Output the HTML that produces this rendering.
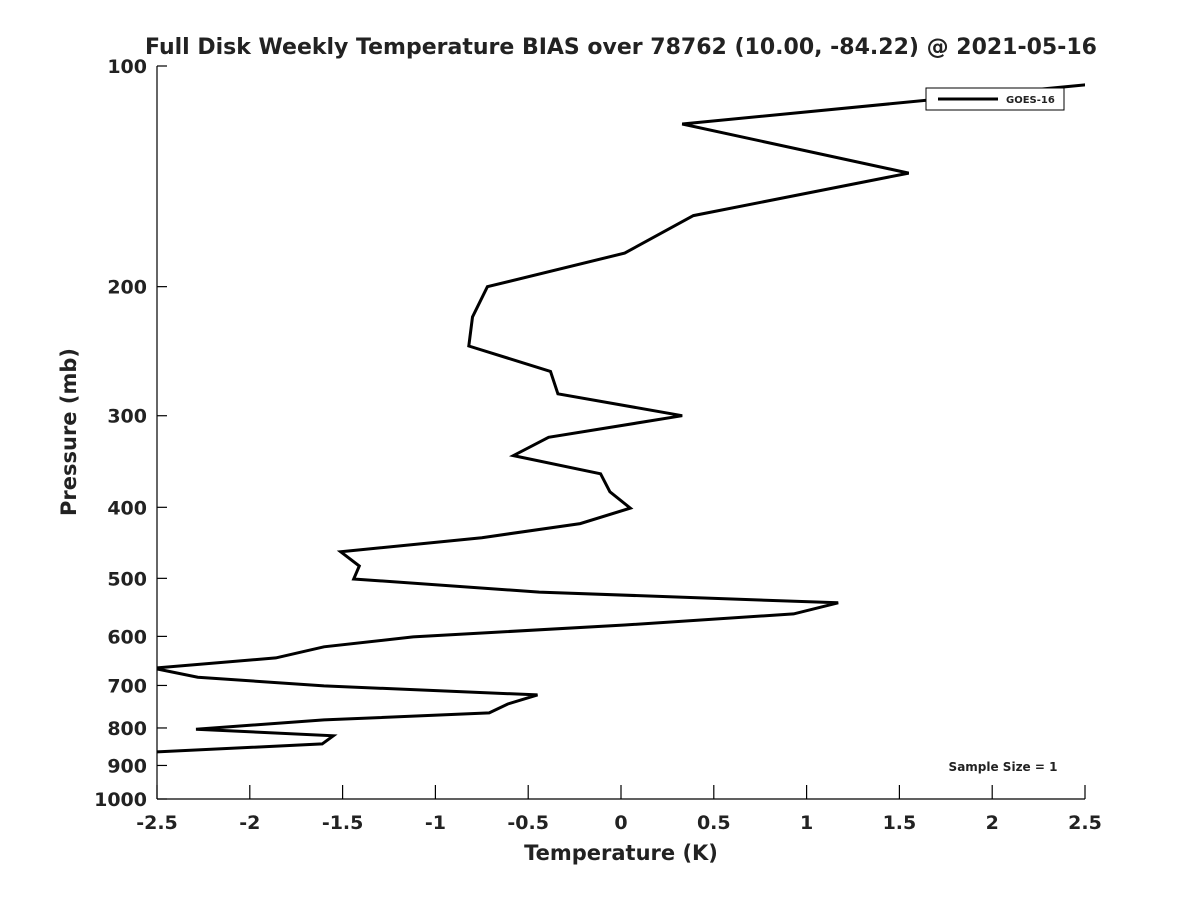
<!DOCTYPE html>
<html><head><meta charset="utf-8"><style>
body{margin:0;background:#fff;}
svg text{font-family:"DejaVu Sans","Liberation Sans",sans-serif;font-weight:bold;fill:#222;}
</style></head><body>
<svg id="chart" width="1200" height="900" viewBox="0 0 1200 900">
<rect width="1200" height="900" fill="#fff"/>
<text x="621" y="54" font-size="22" text-anchor="middle">Full Disk Weekly Temperature BIAS over 78762 (10.00, -84.22) @ 2021-05-16</text>
<defs><clipPath id="plotclip"><rect x="157" y="66" width="928" height="733"/></clipPath></defs>
<g id="axes"></g>
<polyline id="series" fill="none" stroke="#000" stroke-width="3" stroke-linejoin="miter" clip-path="url(#plotclip)"/>
<text x="621" y="860" font-size="21" text-anchor="middle">Temperature (K)</text>
<text transform="translate(76,432) rotate(-90)" font-size="21" text-anchor="middle">Pressure (mb)</text>
<g>
<rect x="926" y="88" width="138" height="22" fill="#fff" stroke="#000" stroke-width="1"/>
<line x1="938" y1="99" x2="998" y2="99" stroke="#000" stroke-width="3"/>
<text x="1006" y="103" font-size="10">GOES-16</text>
</g>
<text x="1003" y="771" font-size="12" text-anchor="middle">Sample Size = 1</text>
</svg>
<script>
const pressures=[106,120,140,160,180,200,220,241,261,280,300,321,340,360,381,401,421,440,460,481,501,522,540,559,579,601,620,642,663,682,701,721,742,763,780,803,820,841,863];
const temps=[2.52,0.33,1.55,0.39,0.02,-0.72,-0.80,-0.82,-0.38,-0.34,0.33,-0.39,-0.58,-0.11,-0.06,0.05,-0.22,-0.75,-1.51,-1.41,-1.44,-0.44,1.17,0.93,0.02,-1.12,-1.60,-1.86,-2.52,-2.28,-1.60,-0.45,-0.61,-0.71,-1.60,-2.29,-1.55,-1.61,-2.52];
const xTicks=[-2.5,-2,-1.5,-1,-0.5,0,0.5,1,1.5,2,2.5];
const yTicks=[100,200,300,400,500,600,700,800,900,1000];
const X0=157,X1=1085,Y0=66,Y1=799;
function xScale(t){return X0+(t+2.5)/5*(X1-X0);}
function yScale(p){return Y0+Math.log10(p/100)*(Y1-Y0);}
const NS='http://www.w3.org/2000/svg';
const ax=document.getElementById('axes');
function mk(tag,attrs){const e=document.createElementNS(NS,tag);for(const k in attrs)e.setAttribute(k,attrs[k]);return e;}
let l=mk('line',{x1:X0,y1:Y0,x2:X0,y2:Y1,stroke:'#000','stroke-width':1.2});


ax.appendChild(l);
l=mk('line',{x1:X0,y1:Y1,x2:X1,y2:Y1,stroke:'#000','stroke-width':1.2});


ax.appendChild(l);
xTicks.forEach(t=>{const x=xScale(t);
 const tk=mk('line',{x1:x,y1:Y1,x2:x,y2:Y1-14,stroke:'#000','stroke-width':1.2});
 
 
 ax.appendChild(tk);
 const tx=mk('text',{x:x,y:829,'font-size':19,'text-anchor':'middle'});tx.textContent=String(t);
 
 
 ax.appendChild(tx);});
yTicks.forEach(p=>{const y=yScale(p);
 const tk=mk('line',{x1:X0,y1:y,x2:X0+10,y2:y,stroke:'#000','stroke-width':1.2});
 
 
 ax.appendChild(tk);
 const tx=mk('text',{x:147,y:y+7,'font-size':19,'text-anchor':'end'});tx.textContent=String(p);
 
 
 ax.appendChild(tx);});
document.getElementById('series').setAttribute('points',pressures.map((p,i)=>xScale(temps[i]).toFixed(1)+','+yScale(p).toFixed(1)).join(' '));
</script>
</body></html>
